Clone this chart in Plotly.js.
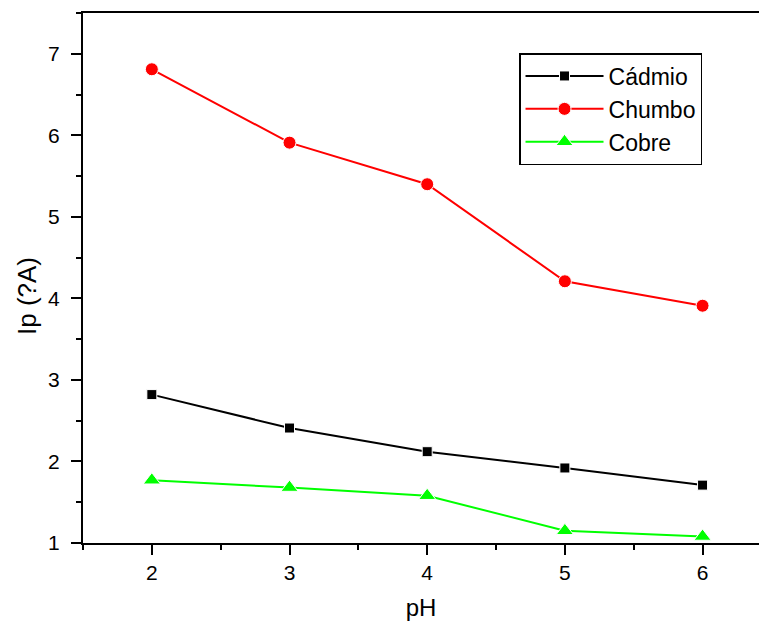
<!DOCTYPE html>
<html>
<head>
<meta charset="utf-8">
<script src="https://cdn.plot.ly/plotly-3.0.1.min.js"></script>
<style>
  html, body { margin: 0; padding: 0; background: #fff; overflow: hidden; }
  #chart { width: 759px; height: 621px; }
</style>
</head>
<body>
<div id="chart"></div>
<script>
// pH values and peak currents for each metal
const ph = [2, 3, 4, 5, 6];
const cadmio = [2.82, 2.41, 2.12, 1.92, 1.71];
const chumbo = [6.81, 5.91, 5.40, 4.21, 3.91];
const cobre = [1.77, 1.68, 1.58, 1.15, 1.08];

const seriesNames = ['Cádmio', 'Chumbo', 'Cobre'];
const xTitle = 'pH';
const yTitle = 'Ip (?A)';

const font = 'Liberation Sans, Arial, sans-serif';

const traces = [
  {
    x: ph, y: cadmio, name: seriesNames[0], mode: 'lines+markers',
    line: { color: '#000000', width: 2 },
    marker: { symbol: 'square', size: 10, color: '#000000', line: { color: '#ffffff', width: 1 } }
  },
  {
    x: ph, y: chumbo, name: seriesNames[1], mode: 'lines+markers',
    line: { color: '#ff0000', width: 2 },
    marker: { symbol: 'circle', size: 13, color: '#ff0000', line: { color: '#ffffff', width: 1 } }
  },
  {
    x: ph, y: cobre, name: seriesNames[2], mode: 'lines+markers',
    line: { color: '#00ff00', width: 2 },
    marker: { symbol: 'triangle-up', size: 15, color: '#00ff00', line: { color: '#ffffff', width: 1 } }
  }
];

const layout = {
  width: 759,
  height: 621,
  margin: { l: 83, r: 0, t: 13, b: 78 },
  paper_bgcolor: '#ffffff',
  plot_bgcolor: '#ffffff',
  font: { family: font, color: '#000000', size: 21 },
  showlegend: true,
  legend: {
    x: 0.645, y: 0.9245, xanchor: 'left', yanchor: 'top',
    bgcolor: '#ffffff', bordercolor: '#000000', borderwidth: 1.5,
    font: { family: font, size: 23 },
    itemwidth: 78, tracegroupgap: 0
  },
  xaxis: {
    range: [1.5, 6.41],
    tickvals: ph, ticktext: ph.map(String),
    ticks: 'outside', ticklen: 10, tickwidth: 2, tickcolor: '#000',
    minor: { dtick: 0.5, tick0: 1.5, ticks: 'outside', ticklen: 5, tickwidth: 2, tickcolor: '#000' },
    showline: true, linecolor: '#000', linewidth: 2, mirror: true,
    showgrid: false, zeroline: false,
    tickfont: { size: 21 },
    title: { text: xTitle, font: { size: 24 }, standoff: 21 },
    automargin: false
  },
  yaxis: {
    range: [1, 7.5],
    tick0: 1, dtick: 1,
    ticks: 'outside', ticklen: 10, tickwidth: 2, tickcolor: '#000',
    ticklabelstandoff: 7,
    minor: { dtick: 0.5, tick0: 1, ticks: 'outside', ticklen: 5, tickwidth: 2, tickcolor: '#000' },
    showline: true, linecolor: '#000', linewidth: 2, mirror: false,
    showgrid: false, zeroline: false,
    tickfont: { size: 21 },
    automargin: false
  },
  annotations: [
    {
      text: yTitle, textangle: -90,
      xref: 'paper', yref: 'paper', x: 0, y: 0.466,
      xanchor: 'center', yanchor: 'middle', xshift: -56,
      showarrow: false, font: { family: font, size: 26, color: '#000' }
    }
  ]
};

Plotly.newPlot('chart', traces, layout, { staticPlot: true, displayModeBar: false });
</script>
</body>
</html>
